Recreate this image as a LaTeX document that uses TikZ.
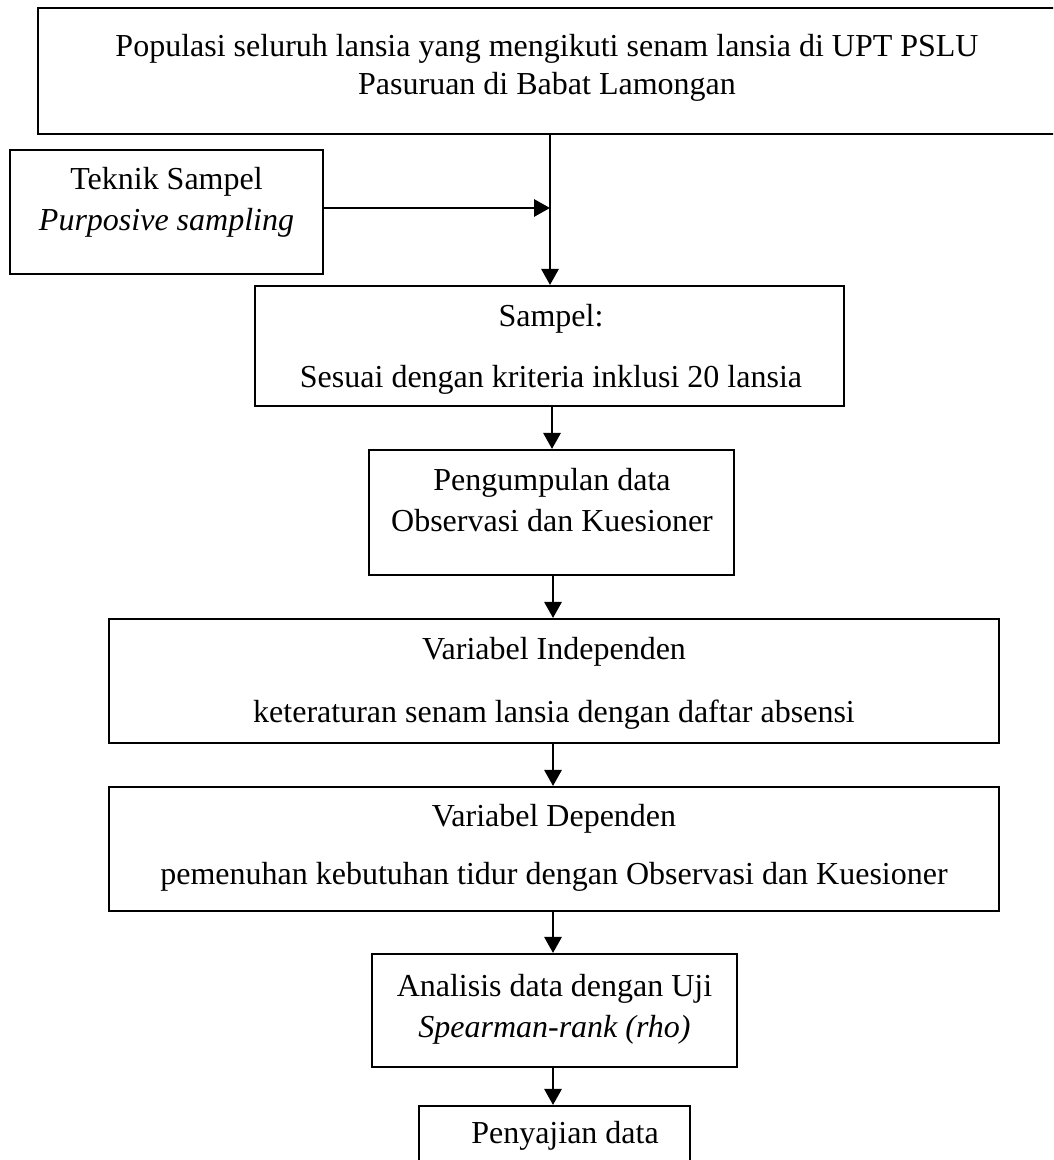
\documentclass[tikz,border=0pt]{standalone}
\usepackage{fontspec}
\setmainfont{Liberation Serif}
\usetikzlibrary{arrows.meta}
\tikzset{
  box/.style={draw, line width=0.8pt, rectangle, inner sep=0pt},
  txt/.style={anchor=base, inner sep=0pt, font=\fontsize{12}{14}\selectfont},
  arr/.style={line width=0.75pt, -{Triangle[width=6.5pt,length=6pt]}}
}
\begin{document}
\begin{tikzpicture}[x=0.375pt, y=-0.375pt]
\useasboundingbox (0,0) rectangle (1053,1160);
\clip (0,0) rectangle (1053,1160);
% boxes
\node[box, minimum width=1032*0.375pt, minimum height=126*0.375pt] (top) at (554,71) {};
\node[box, minimum width=313*0.375pt, minimum height=124*0.375pt] (teknik) at (166.5,212) {};
\node[box, minimum width=589*0.375pt, minimum height=120*0.375pt] (sampel) at (549.5,346) {};
\node[box, minimum width=365*0.375pt, minimum height=125*0.375pt] (peng) at (551.5,512.5) {};
\node[box, minimum width=890*0.375pt, minimum height=124*0.375pt] (indep) at (554,681) {};
\node[box, minimum width=890*0.375pt, minimum height=124*0.375pt] (dep) at (554,849) {};
\node[box, minimum width=365*0.375pt, minimum height=113*0.375pt] (anal) at (554.5,1010.5) {};
\node[box, minimum width=271*0.375pt, minimum height=94*0.375pt] (peny) at (554.5,1153) {};
% texts
\node[txt] (t1a) at (547,57) {Populasi seluruh lansia yang mengikuti senam lansia di UPT PSLU};
\node[txt] (t1b) at (547,95) {Pasuruan di Babat Lamongan};
\node[txt] (t2a) at (166.5,190) {Teknik Sampel};
\node[txt] (t2b) at (166.5,231) {\itshape Purposive sampling};
\node[txt] (t3a) at (551,327) {Sampel:};
\node[txt] (t3b) at (551,388) {Sesuai dengan kriteria inklusi 20 lansia};
\node[txt] (t4a) at (552,491) {Pengumpulan data};
\node[txt] (t4b) at (552,532) {Observasi dan Kuesioner};
\node[txt] (t5a) at (554,659) {Variabel Independen};
\node[txt] (t5b) at (554,722) {keteraturan senam lansia dengan daftar absensi};
\node[txt] (t6a) at (554,826) {Variabel Dependen};
\node[txt] (t6b) at (554,884) {pemenuhan kebutuhan tidur dengan Observasi dan Kuesioner};
\node[txt] (t7a) at (554.5,996) {Analisis data dengan Uji};
\node[txt] (t7b) at (554.5,1037) {\itshape Spearman-rank (rho)};
\node[txt] (t8a) at (565,1143) {Penyajian data};
% connectors
\coordinate (tb) at (550,134);
\draw[arr] (tb) -- (tb |- sampel.north);
\draw[arr] ([yshift=1.5pt]teknik.east) -- ([yshift=1.5pt]teknik.east -| tb);
\draw[arr] (sampel.south -| 552,0) -- (peng.north -| 552,0);
\draw[arr] (peng.south -| 553,0) -- (indep.north -| 553,0);
\draw[arr] (indep.south -| 553,0) -- (dep.north -| 553,0);
\draw[arr] (dep.south -| 553,0) -- (anal.north -| 553,0);
\draw[arr] (anal.south -| 553,0) -- (peny.north -| 553,0);
\end{tikzpicture}
\end{document}
